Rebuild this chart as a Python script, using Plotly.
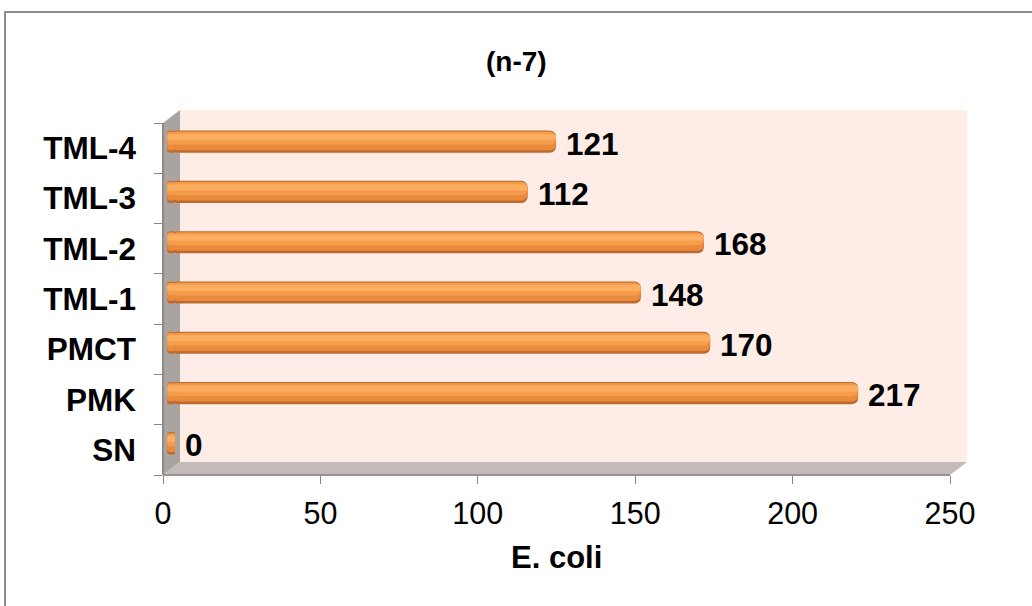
import plotly.graph_objects as go

# ---- data -------------------------------------------------------------
categories = ["SN", "PMK", "PMCT", "TML-1", "TML-2", "TML-3", "TML-4"]
counts = [0, 217, 170, 148, 168, 112, 121]
x_ticks = [0, 50, 100, 150, 200, 250]
chart_title = "(n-7)"
x_title = "E. coli"

# ---- geometry (pixels) ------------------------------------------------
W, H = 1032, 606
L, R, T, B = 163, 950, 123, 475      # front plane of the 3-D box
DX, DY = 17, 13                      # depth of the box
XMAX = 250
PPU = (R - L) / XMAX                 # pixels per value unit
PPC = (B - T) / len(categories)      # pixels per category
BAR_DX, BAR_DY = 12, 6.5             # bars sit half way into the box

FONT = "Liberation Sans, Arial, sans-serif"


def fx(px):
    return (px - L) / (R - L)


def fy(py):
    return (B - py) / (B - T)


fig = go.Figure()

# invisible trace so the front-plane axes (ticks and labels) are drawn
fig.add_trace(go.Scatter(
    x=counts, y=categories, mode="markers", marker=dict(opacity=0),
    hoverinfo="skip", showlegend=False,
))

# cylinder shading: stacked bands across the bar thickness (bottom -> top)
bands = [
    (-0.22, 0.44, "#bd6a2e"),
    (-0.17, 0.37, "#e98a3c"),
    (-0.06, 0.25, "#f59d4b"),
    (0.03, 0.12, "#fbae60"),
]
BODY_BASE = -1.25   # body starts slightly left of zero
CAP = -2.5          # rounded left end of each cylinder

for off, wid, col in bands:
    # body with rounded right end, ending at the value
    fig.add_trace(go.Bar(
        y=categories, x=[v - BODY_BASE for v in counts], base=BODY_BASE,
        orientation="h", width=wid, offset=off,
        marker=dict(color=col, line=dict(width=0), cornerradius=6),
        xaxis="x2", yaxis="y2", hoverinfo="skip", showlegend=False,
    ))
    # left end cap, drawn towards negative values so its end is rounded
    fig.add_trace(go.Bar(
        y=categories, x=[CAP] * len(categories), base=0,
        orientation="h", width=wid, offset=off,
        marker=dict(color=col, line=dict(width=0), cornerradius=6),
        xaxis="x2", yaxis="y2", hoverinfo="skip", showlegend=False,
    ))

# value labels
annotations = []
for c, v in zip(categories, counts):
    annotations.append(dict(
        x=v, y=c, xref="x2", yref="y2", text=str(v), showarrow=False,
        xanchor="left", yanchor="middle", xshift=8, yshift=-2,
        font=dict(family=FONT, size=31.5, color="black", weight="bold"),
    ))

annotations.append(dict(
    x=fx(516), y=fy(62), xref="paper", yref="paper", text=chart_title,
    showarrow=False, xanchor="center", yanchor="middle",
    font=dict(family=FONT, size=28, color="black", weight="bold"),
))
annotations.append(dict(
    x=0.5, y=fy(557), xref="paper", yref="paper", text=x_title,
    showarrow=False, xanchor="center", yanchor="middle",
    font=dict(family=FONT, size=31, color="black", weight="bold"),
))

# ---- 3-D box: back wall, side wall, floor, frame -----------------------
def path(points):
    return "M " + " L ".join(f"{fx(x)},{fy(y)}" for x, y in points) + " Z"


shapes = [
    # outer chart frame
    dict(type="rect", xref="paper", yref="paper",
         x0=fx(5), x1=fx(W + 20), y0=fy(12), y1=fy(H + 20),
         line=dict(color="#8c8c8c", width=2), fillcolor="rgba(0,0,0,0)",
         layer="below"),
    # back wall
    dict(type="rect", xref="paper", yref="paper",
         x0=fx(L + DX), x1=fx(R + DX), y0=fy(T - DY), y1=fy(B - DY),
         line=dict(width=0), fillcolor="#fdede6", layer="below"),
    # side wall
    dict(type="path", xref="paper", yref="paper",
         path=path([(L, T), (L + DX, T - DY), (L + DX, B - DY), (L, B)]),
         line=dict(width=0), fillcolor="#aaa4a1", layer="below"),
    # floor
    dict(type="path", xref="paper", yref="paper",
         path=path([(L, B), (L + DX, B - DY), (R + DX, B - DY), (R, B)]),
         line=dict(width=0), fillcolor="#c3bbb7", layer="below"),
    # front edges
    dict(type="line", xref="paper", yref="paper",
         x0=fx(L), x1=fx(R), y0=fy(B), y1=fy(B),
         line=dict(color="#989290", width=2), layer="below"),
    dict(type="line", xref="paper", yref="paper",
         x0=fx(L), x1=fx(L), y0=fy(T), y1=fy(B),
         line=dict(color="#8f8986", width=2), layer="below"),
]

fig.update_layout(
    width=W, height=H,
    margin=dict(l=L, r=W - R, t=T, b=H - B, pad=0),
    paper_bgcolor="white", plot_bgcolor="rgba(0,0,0,0)",
    barmode="overlay", showlegend=False,
    shapes=shapes, annotations=annotations,
    xaxis=dict(
        range=[0, XMAX], tickvals=x_ticks, ticks="outside", ticklen=8,
        tickcolor="#888888", tickwidth=1, showgrid=False, zeroline=False,
        showline=False, ticklabelstandoff=3,
        tickfont=dict(family=FONT, size=30.5, color="black"),
    ),
    yaxis=dict(
        type="category", categoryorder="array", categoryarray=categories,
        range=[-0.5, len(categories) - 0.5], tickson="boundaries",
        ticks="outside", ticklen=8, tickcolor="#888888", tickwidth=1,
        showgrid=False, zeroline=False, showline=False, ticklabelstandoff=26,
        tickfont=dict(family=FONT, size=31.5, color="black", weight="bold"),
    ),
    xaxis2=dict(
        overlaying="x", anchor="y2", visible=False,
        range=[-BAR_DX / PPU, XMAX - BAR_DX / PPU],
    ),
    yaxis2=dict(
        overlaying="y", anchor="x2", visible=False, type="category",
        categoryorder="array", categoryarray=categories,
        range=[-0.5 - BAR_DY / PPC, len(categories) - 0.5 - BAR_DY / PPC],
    ),
)

fig.write_html("out.html")
